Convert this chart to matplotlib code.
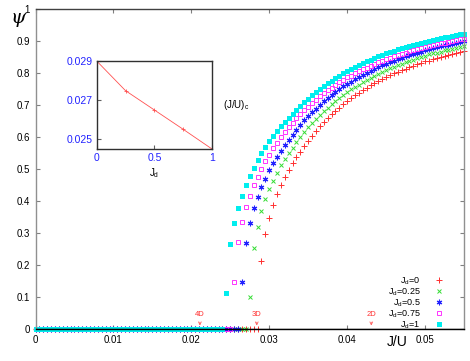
import numpy as np
import matplotlib
matplotlib.use("Agg")
import matplotlib.pyplot as plt

plt.rcParams["font.family"] = ["Liberation Sans", "DejaVu Sans"]
plt.rcParams["mathtext.default"] = "regular"

# J/U grid of the calculation
ju_step = 0.0005
ju_max = 0.055

# order parameter psi above the transition (first point is the first non-zero one)
psi_jd0 = [0.213, 0.296, 0.348, 0.388, 0.421, 0.449, 0.474, 0.496, 0.518, 0.537, 0.554,
           0.572, 0.589, 0.604, 0.619, 0.633, 0.646, 0.659, 0.671, 0.682, 0.692, 0.703,
           0.712, 0.721, 0.730, 0.738, 0.746, 0.754, 0.761, 0.768, 0.775, 0.781, 0.787,
           0.793, 0.799, 0.804, 0.809, 0.814, 0.819, 0.823, 0.827, 0.832, 0.836, 0.839,
           0.843, 0.847, 0.850, 0.853, 0.857, 0.860, 0.863, 0.865, 0.868]
psi_jd025 = [0.099, 0.253, 0.320, 0.368, 0.405, 0.437, 0.463, 0.489, 0.511, 0.531, 0.550,
             0.567, 0.583, 0.599, 0.615, 0.630, 0.644, 0.657, 0.669, 0.681, 0.692, 0.703,
             0.713, 0.723, 0.732, 0.741, 0.749, 0.757, 0.764, 0.772, 0.779, 0.785, 0.792,
             0.798, 0.804, 0.809, 0.815, 0.820, 0.825, 0.829, 0.834, 0.838, 0.842, 0.846,
             0.850, 0.854, 0.858, 0.861, 0.864, 0.867, 0.871, 0.873, 0.876, 0.879, 0.882,
             0.884]
psi_jd05 = [0.146, 0.268, 0.332, 0.377, 0.413, 0.444, 0.470, 0.496, 0.519, 0.538, 0.557,
            0.575, 0.592, 0.607, 0.623, 0.638, 0.652, 0.665, 0.677, 0.689, 0.701, 0.711,
            0.722, 0.731, 0.741, 0.749, 0.758, 0.766, 0.773, 0.781, 0.788, 0.795, 0.801,
            0.807, 0.813, 0.819, 0.824, 0.829, 0.834, 0.839, 0.844, 0.848, 0.852, 0.856,
            0.860, 0.864, 0.867, 0.871, 0.874, 0.877, 0.881, 0.883, 0.886, 0.889, 0.892,
            0.894, 0.897, 0.899]
psi_jd075 = [0.148, 0.272, 0.334, 0.380, 0.417, 0.449, 0.476, 0.501, 0.524, 0.545, 0.565,
             0.582, 0.599, 0.616, 0.630, 0.645, 0.658, 0.671, 0.683, 0.695, 0.706, 0.717,
             0.727, 0.737, 0.746, 0.754, 0.763, 0.771, 0.778, 0.786, 0.792, 0.799, 0.805,
             0.812, 0.817, 0.823, 0.828, 0.834, 0.838, 0.843, 0.848, 0.852, 0.856, 0.860,
             0.864, 0.868, 0.871, 0.875, 0.878, 0.881, 0.884, 0.887, 0.890, 0.893, 0.895,
             0.898, 0.900, 0.903, 0.905, 0.907]
psi_jd1 = [0.113, 0.265, 0.330, 0.379, 0.417, 0.449, 0.477, 0.504, 0.528, 0.549, 0.569,
           0.587, 0.603, 0.619, 0.634, 0.647, 0.660, 0.673, 0.685, 0.697, 0.709, 0.720,
           0.731, 0.741, 0.750, 0.759, 0.768, 0.776, 0.784, 0.792, 0.799, 0.806, 0.813,
           0.819, 0.825, 0.831, 0.837, 0.842, 0.847, 0.852, 0.857, 0.861, 0.866, 0.870,
           0.874, 0.878, 0.882, 0.885, 0.889, 0.892, 0.895, 0.898, 0.901, 0.904, 0.907,
           0.909, 0.912, 0.914, 0.916, 0.919, 0.921, 0.923]

labels = ["J$_d$=0", "J$_d$=0.25", "J$_d$=0.5", "J$_d$=0.75", "J$_d$=1"]

# inset: critical point vs J_d
jd = [0, 0.25, 0.5, 0.75, 1]
ju_c = [0.0290, 0.02748, 0.02649, 0.0255, 0.02449]

# arrows for the known critical points
dims = ["4D", "3D", "2D"]
dim_ju = [0.0211, 0.0284, 0.0431]

x = np.arange(0, round(ju_max / ju_step) + 1) * ju_step

fig = plt.figure(figsize=(4.70, 3.61), dpi=100)
ax = fig.add_axes([35.5 / 470, 32 / 361, 428.5 / 470, 320 / 361])

styles = [
    dict(marker="+", color="#ff3030", ms=4.2, mew=0.7),
    dict(marker="x", color="#33dd33", ms=3.4, mew=0.7),
    dict(marker=(6, 2, 0), color="#2222ff", ms=4.0, mew=0.8),
    dict(marker="s", color="#ff33ff", ms=3.2, mew=0.7, mfc="none"),
    dict(marker="s", color="#00eeee", ms=3.6, mew=0),
]
series = [psi_jd0, psi_jd025, psi_jd05, psi_jd075, psi_jd1]
for vals, st, lab in zip(series, styles, labels):
    y = np.concatenate([np.zeros(len(x) - len(vals)), vals])
    ax.plot(x, y, linestyle="none", label=lab, clip_on=False, **st)

ax.axhline(0, color="black", lw=0.9, zorder=5)

for name, xv in zip(dims, dim_ju):
    ax.annotate("", xy=(xv, 0.002), xytext=(xv, 0.03),
                arrowprops=dict(arrowstyle="->", color="#ff6060", lw=0.6,
                                mutation_scale=5))
    ax.text(xv, 0.035, name, color="#ff3030", fontsize=5.5, ha="center", va="bottom")

ax.set_xlim(0, ju_max)
ax.set_ylim(0, 1)
ax.set_xticks([0, 0.01, 0.02, 0.03, 0.04, 0.05])
ax.set_xticklabels(["0", "0.01", "0.02", "0.03", "0.04", "0.05"])
ax.set_yticks([0, 0.1, 0.2, 0.3, 0.4, 0.5, 0.6, 0.7, 0.8, 0.9, 1])
ax.set_yticklabels(["0", "0.1", "0.2", "0.3", "0.4", "0.5", "0.6", "0.7", "0.8", "0.9", "1"])
ax.tick_params(direction="in", length=3, width=0.8, color="#808080", labelsize=7,
               top=True, right=True, pad=4)
for side in ["left", "right"]:
    ax.spines[side].set_color("#909090")
ax.spines["top"].set_color("#404040")
ax.spines["bottom"].set_color("black")
for s in ax.spines.values():
    s.set_linewidth(1.0)

ax.text(0.0464, -0.018, "J/U", fontsize=10, ha="center", va="top")
fig.text(18 / 470, 1 - 18 / 361, "ψ", fontsize=14, family="DejaVu Serif",
         style="italic", ha="center", va="center")

leg = ax.legend(loc="lower right", bbox_to_anchor=(444 / 470, 30 / 361),
                bbox_transform=fig.transFigure, frameon=False, markerfirst=False,
                fontsize=6.5, handlelength=1.0, handletextpad=1.6, labelspacing=-0.05,
                borderaxespad=0, borderpad=0, alignment="right")
for t in leg.get_texts():
    t.set_ha("right")

# inset
axi = fig.add_axes([96.7 / 470, 212 / 361, 115.3 / 470, 88 / 361])
axi.plot(jd, ju_c, color="#ff5050", lw=0.6, marker="+", ms=3, mew=0.6)
axi.set_xlim(0, 1)
axi.set_ylim(0.02449, 0.029)
axi.set_xticks([0, 0.5, 1])
axi.set_xticklabels(["0", "0.5", "1"])
axi.set_yticks([0.025, 0.027, 0.029])
axi.set_yticklabels(["0.025", "0.027", "0.029"])
axi.tick_params(direction="in", length=3, width=0.8, color="#606060", labelsize=7.5,
                labelcolor="#2222ff", pad=3)
for s in axi.spines.values():
    s.set_color("#303030")
    s.set_linewidth(1.0)
axi.set_xlabel("J$_d$", fontsize=7, labelpad=2)
fig.text(223 / 470, 1 - 105 / 361, "(J/U)$_c$", fontsize=7, ha="left", va="center")

fig.savefig("out.png", dpi=100)
